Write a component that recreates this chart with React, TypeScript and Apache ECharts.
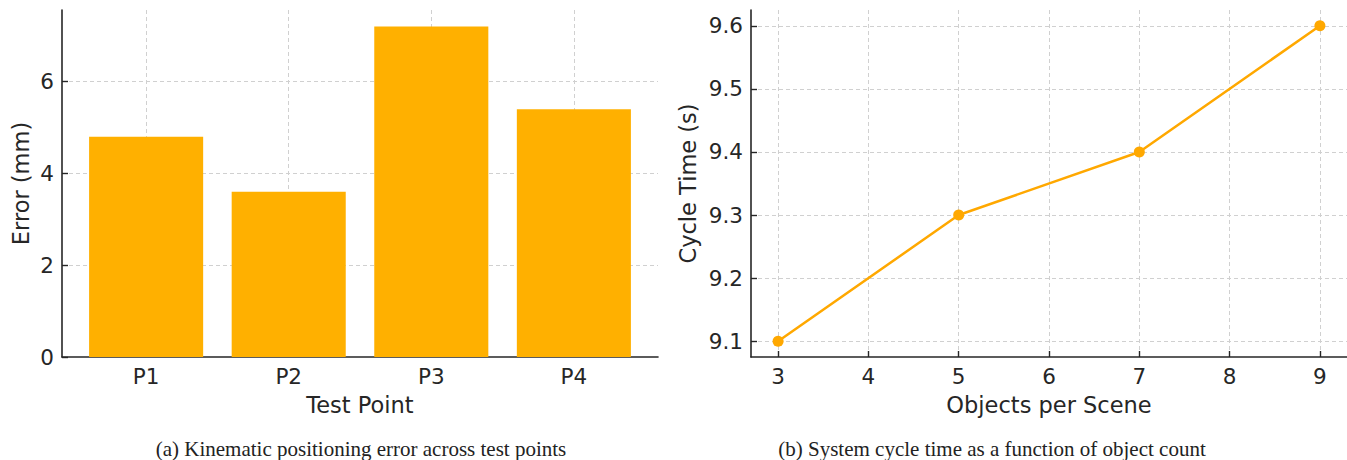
import React, { useEffect, useRef } from "react";
import * as echarts from "echarts";

const testPoints = ["P1", "P2", "P3", "P4"];
const errorMm = [4.8, 3.6, 7.2, 5.4];

const objectsPerScene = [3, 5, 7, 9];
const cycleTime = [9.1, 9.3, 9.4, 9.6];

const captionA = "(a) Kinematic positioning error across test points";
const captionB = "(b) System cycle time as a function of object count";

const BAR_COLOR = "#FFB000";
const LINE_COLOR = "#FFA800";
const AXIS_COLOR = "#262626";
const TEXT_COLOR = "#262626";
const GRID_COLOR = "#d0d0d0";
const SANS = "DejaVu Sans";

const isInt = (v: number) => Math.abs(v - Math.round(v)) < 1e-6;
const isTenth = (v: number) => Math.abs(v * 10 - Math.round(v * 10)) < 1e-6;

export default function App() {
  const ref = useRef<HTMLDivElement>(null);

  useEffect(() => {
    if (!ref.current) return;
    const chart = echarts.init(ref.current, null, { renderer: "svg" });

    const axisLine = { show: true, onZero: false, lineStyle: { color: AXIS_COLOR, width: 1.6 } };
    const axisTick = { show: true, inside: true, length: 6, lineStyle: { color: AXIS_COLOR, width: 1.4 } };
    const splitLine = {
      show: true,
      showMinLine: false,
      showMaxLine: false,
      lineStyle: { color: GRID_COLOR, type: [4, 3] as any, width: 1 },
    };
    const labelBase = { color: TEXT_COLOR, fontFamily: SANS, fontSize: 21.5 };
    const nameStyle = { color: TEXT_COLOR, fontFamily: SANS, fontSize: 22.5 };

    chart.setOption({
      animation: false,
      grid: [
        { left: 62, right: 689, top: 10, bottom: 103, containLabel: false },
        { left: 751, right: 0, top: 10, bottom: 103, containLabel: false },
      ],
      xAxis: [
        {
          type: "value",
          gridIndex: 0,
          min: -0.59,
          max: 3.59,
          name: "Test Point",
          nameLocation: "middle",
          nameGap: 36,
          nameTextStyle: nameStyle,
          axisLine,
          axisTick,
          axisLabel: {
            ...labelBase,
            margin: 8,
            showMinLabel: false,
            showMaxLabel: false,
            formatter: (v: number) => (isInt(v) && v >= 0 && v < testPoints.length ? testPoints[Math.round(v)] : ""),
          },
          splitLine,
        },
        {
          type: "value",
          gridIndex: 1,
          min: 2.7,
          max: 9.3,
          name: "Objects per Scene",
          nameLocation: "middle",
          nameGap: 36,
          nameTextStyle: nameStyle,
          axisLine,
          axisTick,
          axisLabel: {
            ...labelBase,
            margin: 8,
            showMinLabel: false,
            showMaxLabel: false,
            formatter: (v: number) => (isInt(v) ? String(Math.round(v)) : ""),
          },
          splitLine,
        },
      ],
      yAxis: [
        {
          type: "value",
          gridIndex: 0,
          min: 0,
          max: 7.56,
          name: "Error (mm)",
          nameLocation: "middle",
          nameGap: 30,
          nameTextStyle: nameStyle,
          axisLine,
          axisTick,
          axisLabel: {
            ...labelBase,
            margin: 8,
            showMaxLabel: false,
            formatter: (v: number) => (isInt(v) ? String(Math.round(v)) : ""),
          },
          splitLine,
        },
        {
          type: "value",
          gridIndex: 1,
          min: 9.075,
          max: 9.625,
          name: "Cycle Time (s)",
          nameLocation: "middle",
          nameGap: 52,
          nameTextStyle: nameStyle,
          axisLine,
          axisTick,
          axisLabel: {
            ...labelBase,
            margin: 8,
            showMinLabel: false,
            showMaxLabel: false,
            formatter: (v: number) => (isTenth(v) ? v.toFixed(1) : ""),
          },
          splitLine,
        },
      ],
      series: [
        {
          type: "bar",
          xAxisIndex: 0,
          yAxisIndex: 0,
          barWidth: "80%",
          data: errorMm.map((v, i) => [i, v]),
          itemStyle: { color: BAR_COLOR },
          z: 1,
        },
        {
          type: "line",
          xAxisIndex: 1,
          yAxisIndex: 1,
          data: objectsPerScene.map((x, i) => [x, cycleTime[i]]),
          lineStyle: { color: LINE_COLOR, width: 2.5 },
          itemStyle: { color: LINE_COLOR },
          symbol: "circle",
          symbolSize: 11,
          showSymbol: true,
        },
      ],
      graphic: [
        {
          type: "text",
          x: 361,
          y: 449,
          style: {
            text: captionA,
            fontFamily: "Liberation Serif",
            fontSize: 21,
            fill: "#222",
            align: "center",
            verticalAlign: "middle",
          },
        },
        {
          type: "text",
          x: 992,
          y: 449,
          style: {
            text: captionB,
            fontFamily: "Liberation Serif",
            fontSize: 21,
            fill: "#222",
            align: "center",
            verticalAlign: "middle",
          },
        },
      ],
    });

    return () => chart.dispose();
  }, []);

  return (
    <div
      ref={ref}
      style={{ position: "fixed", left: 0, top: 0, width: 1347, height: 460, background: "#fff" }}
    />
  );
}
